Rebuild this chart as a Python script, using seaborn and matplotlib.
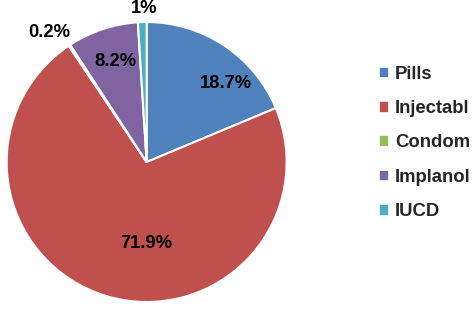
import numpy as np
import matplotlib
matplotlib.use("Agg")
import matplotlib.pyplot as plt
import matplotlib.patches as mpatches
import seaborn as sns

# data
methods = ["Pills", "Injectabl", "Condom", "Implanol", "IUCD"]
shares = [18.7, 71.9, 0.2, 8.2, 1.0]
pct_labels = ["18.7%", "71.9%", "0.2%", "8.2%", "1%"]
colors = ["#4F81BD", "#C0504D", "#9BBB59", "#8064A2", "#4BACC6"]

# label placement (radial distance, angle nudge in degrees)
label_dist = [0.80, 0.58, 1.155, 0.756, 1.10]
label_nudge = [-11.7, 16.7, 3.5, -1.0, -0.7]

sns.set_style("white")
plt.rcParams["font.family"] = ["Liberation Sans", "DejaVu Sans"]

fig = plt.figure(figsize=(4.72, 3.12), dpi=100)
ax = fig.add_axes([0.0128, 0.032, 0.5958, 0.8974])

wedges, _ = ax.pie(shares, colors=colors, startangle=90, counterclock=False,
                   wedgeprops=dict(edgecolor="white", linewidth=1.5))
ax.set_aspect("equal")
ax.set_xlim(-1, 1)
ax.set_ylim(-1, 1)
ax.axis("off")

for w, txt, d, nudge in zip(wedges, pct_labels, label_dist, label_nudge):
    ang = np.deg2rad((w.theta1 + w.theta2) / 2 + nudge)
    ax.text(d * np.cos(ang), d * np.sin(ang), txt, ha="center", va="center",
            fontsize=13.2, fontweight="bold", color="black", clip_on=False)

handles = [mpatches.Patch(facecolor=c, edgecolor="white", linewidth=0.5) for c in colors]
fig.legend(handles, methods, loc="upper left", bbox_to_anchor=(0.803, 0.79),
           frameon=False, handlelength=0.49, handleheight=0.49, handletextpad=0.38,
           labelspacing=0.94, borderpad=0, borderaxespad=0,
           prop=dict(size=13.3, weight="bold"))

fig.savefig("out.png", dpi=100)
